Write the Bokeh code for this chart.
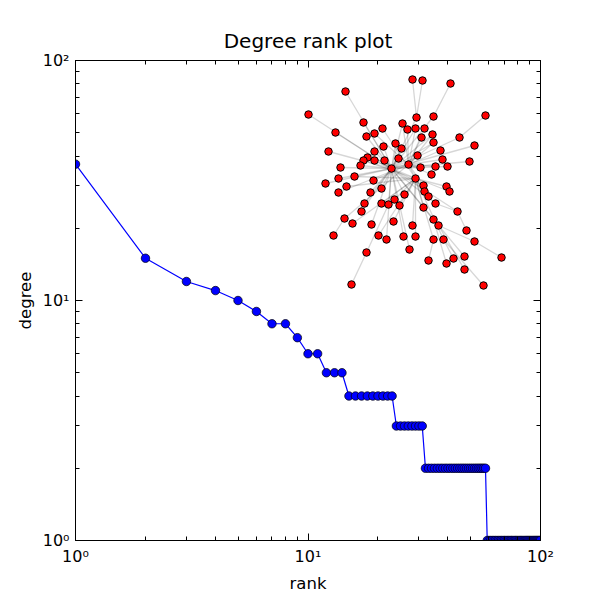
from bokeh.plotting import figure
from bokeh.models import (FixedTicker, LogAxis, Range1d, LinearScale, ColumnDataSource)
from bokeh.embed import file_html
from bokeh.resources import INLINE

# ---------------- data ----------------
rank = list(range(1, 101))
degree = [37, 15, 12, 11, 10, 9, 8, 8, 7, 6, 6, 5, 5, 5,
          4, 4, 4, 4, 4, 4, 4, 4, 4,
          3, 3, 3, 3, 3, 3, 3, 3,
          2, 2, 2, 2, 2, 2, 2, 2, 2, 2, 2, 2, 2, 2, 2, 2, 2, 2, 2, 2, 2, 2, 2, 2, 2, 2, 2,
          1, 1, 1, 1, 1, 1, 1, 1, 1, 1, 1, 1, 1, 1, 1, 1, 1, 1, 1, 1, 1,
          1, 1, 1, 1, 1, 1, 1, 1, 1, 1, 1, 1, 1, 1, 1, 1, 1, 1, 1, 1, 1]

major_ticks = [1, 10, 100]
minor_ticks = [2, 3, 4, 5, 6, 7, 8, 9, 20, 30, 40, 50, 60, 70, 80, 90]
tick_labels = {1: "10\u2070", 10: "10\u00b9", 100: "10\u00b2"}
blank_labels = {1: " ", 10: " ", 100: " "}

# network layout (inset, layout units, y downward)
layout_x = [412, 422, 450, 345, 308, 485, 363, 416, 433, 402,
            407, 415, 424, 335, 382, 374, 366, 432, 421, 459,
            433, 395, 383, 401, 474, 328, 374, 440, 417, 367,
            363, 374, 384, 398, 442, 469, 360, 408, 391, 420,
            435, 447, 340, 431, 354, 338, 415, 373, 325, 346,
            423, 446, 381, 338, 370, 424, 449, 428, 404, 394,
            364, 381, 388, 399, 435, 423, 361, 457, 344, 433,
            352, 393, 438, 371, 412, 466, 333, 378, 403, 415,
            386, 433, 443, 474, 409, 366, 501, 428, 453, 464,
            446, 464, 351, 483]
layout_y = [79, 80, 83, 91, 114, 115, 122, 117, 116, 123,
            129, 128, 128, 132, 128, 133, 136, 134, 137, 137,
            142, 143, 146, 148, 145, 151, 151, 150, 155, 157,
            160, 160, 160, 158, 159, 161, 165, 164, 168, 167,
            166, 166, 167, 174, 176, 178, 178, 180, 183, 186,
            185, 186, 188, 192, 192, 191, 191, 196, 194, 199,
            203, 203, 204, 205, 203, 207, 211, 211, 218, 219,
            223, 221, 225, 224, 225, 230, 235, 235, 236, 236,
            239, 239, 239, 241, 249, 252, 257, 260, 258, 256,
            263, 269, 284, 285]

edge_src = [0, 1, 2, 5,
            38, 38, 38, 38, 38, 38, 38, 38, 38, 38, 38, 38, 38, 38, 38, 38, 38, 38, 38, 38,
            38, 38, 38, 38, 38, 38, 38, 38, 38, 38, 38, 38, 38, 38, 38, 38, 38, 38, 38, 38,
            38, 38, 38, 38, 38,
            37, 37, 37, 37, 37, 37, 37, 37, 37, 37, 37, 37, 37, 37, 37, 37, 37, 37, 37,
            46, 46, 46, 46, 46, 46, 46, 46, 46, 46, 46, 46, 46, 46, 46, 46, 46, 46,
            76, 92, 85, 83, 86, 87, 88, 89, 90, 91, 93, 75, 67]
edge_dst = [7, 7, 8, 19,
            3, 4, 6, 7, 8, 13, 16, 19, 21, 22, 23, 24, 25, 26, 29, 31, 32, 33, 35, 36,
            42, 45, 48, 52, 54, 58, 60, 62, 64, 67, 69, 72, 78, 80, 84, 56, 41, 66, 73, 9,
            11, 17, 20, 37, 50,
            9, 10, 11, 12, 17, 18, 20, 27, 28, 34, 39, 40, 43, 50, 46, 15, 47, 53, 68,
            55, 57, 65, 74, 79, 81, 82, 71, 63, 51, 59, 14, 30, 44, 49, 61, 70, 77,
            68, 85, 62, 72, 83, 81, 82, 69, 69, 72, 82, 67, 64]

# ---------------- figure ----------------
FONT = "DejaVu Sans"

p = figure(width=600, height=600, x_axis_type="log", y_axis_type="log",
           x_range=Range1d(1, 100), y_range=Range1d(1, 100),
           output_backend="svg", toolbar_location=None,
           min_border_left=75, min_border_right=60,
           min_border_top=60, min_border_bottom=60,
           title="Degree rank plot")
p.title.align = "center"
p.title.text_font = FONT
p.title.text_font_size = "20px"
p.title.text_font_style = "normal"
p.title.text_color = "black"
p.title.standoff = 7
p.grid.visible = False
p.outline_line_color = "black"
p.outline_line_width = 1
p.background_fill_color = "white"
p.border_fill_color = "white"

ticker = FixedTicker(ticks=major_ticks, minor_ticks=minor_ticks)

def style_axis(ax, labels, size="16px"):
    ax.ticker = ticker
    ax.axis_line_color = "black"
    ax.major_tick_in = 7
    ax.major_tick_out = 0
    ax.minor_tick_in = 4
    ax.minor_tick_out = 0
    ax.major_tick_line_color = "black"
    ax.minor_tick_line_color = "black"
    ax.major_label_text_font = FONT
    ax.major_label_text_font_size = size
    ax.major_label_text_color = "black"
    ax.major_label_overrides = labels

for ax in p.xaxis + p.yaxis:
    style_axis(ax, tick_labels)
    ax.axis_label_text_font = FONT
    ax.axis_label_text_font_size = "16.5px"
    ax.axis_label_text_font_style = "normal"
    ax.axis_label_text_color = "black"
p.xaxis.axis_label = "rank"
p.yaxis.axis_label = "degree"
p.xaxis.major_label_standoff = 6
p.yaxis.major_label_standoff = 6

top_ax = LogAxis()
right_ax = LogAxis()
style_axis(top_ax, blank_labels, size="1px")
style_axis(right_ax, blank_labels, size="1px")
top_ax.major_label_standoff = 0
right_ax.major_label_standoff = 0
p.add_layout(top_ax, "above")
p.add_layout(right_ax, "right")

# degree rank line
p.line(rank, degree, line_color="blue", line_width=1.2)
p.scatter(rank, degree, size=8.5, fill_color="blue", line_color="black", line_width=0.7)

# inset network on linear layout scales
p.extra_x_ranges = {"net": Range1d(75, 540)}
p.extra_y_ranges = {"net": Range1d(540, 60)}
p.extra_x_scales = {"net": LinearScale()}
p.extra_y_scales = {"net": LinearScale()}

edges = ColumnDataSource(dict(
    x0=[layout_x[i] for i in edge_src], y0=[layout_y[i] for i in edge_src],
    x1=[layout_x[j] for j in edge_dst], y1=[layout_y[j] for j in edge_dst]))
p.segment("x0", "y0", "x1", "y1", source=edges, line_color="black", line_alpha=0.16,
          line_width=1.3, x_range_name="net", y_range_name="net")
p.scatter(layout_x, layout_y, size=7.5, fill_color="red", line_color="black",
          line_width=1, x_range_name="net", y_range_name="net")

open("out.html", "w").write(file_html(p, INLINE))
